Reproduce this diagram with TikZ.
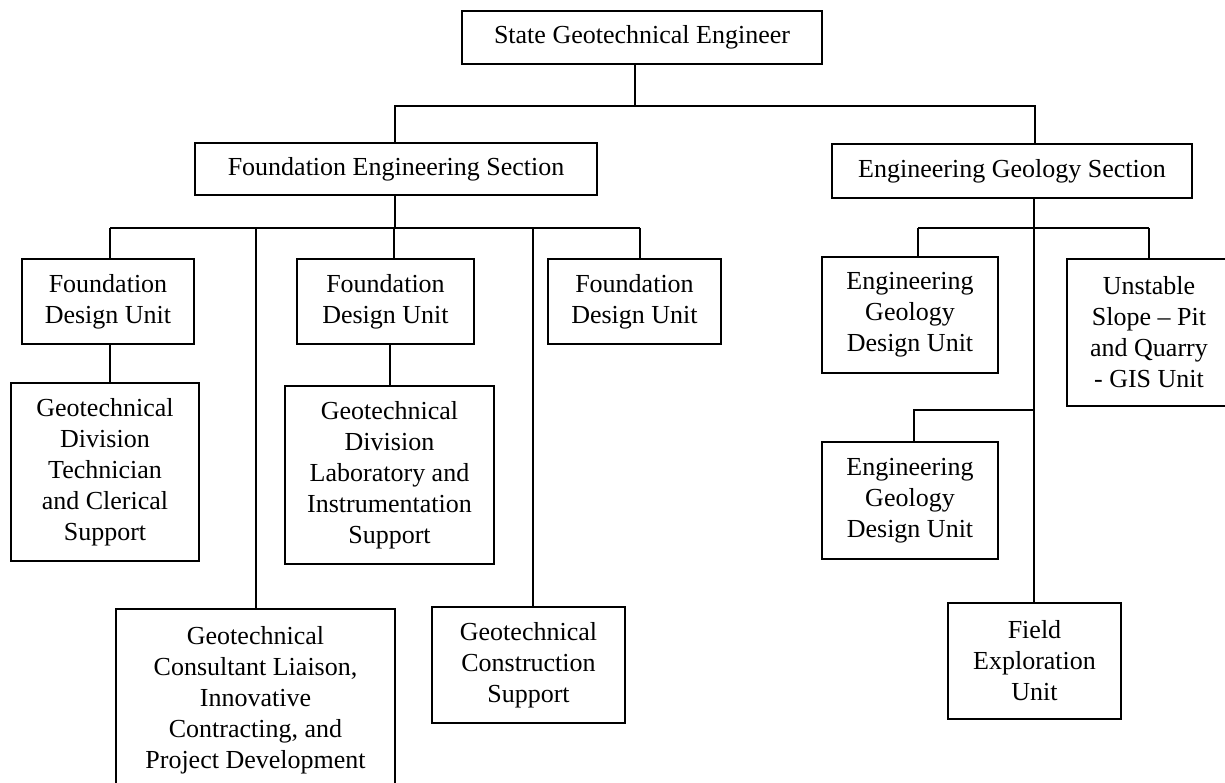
\documentclass[tikz,border=0pt]{standalone}
\usepackage{fontspec}
\setmainfont{Liberation Serif}
\begin{document}
\begin{tikzpicture}[x=1pt,y=-1pt,
  box/.style={draw=black,line width=1.4pt,inner sep=0pt,align=center,
    font=\fontsize{26}{31}\selectfont},
  conn/.style={draw=black,line width=1.4pt}]
\useasboundingbox (0,0) rectangle (1225,783);
\clip (0,0) rectangle (1225,783);
\fill[white] (0,0) rectangle (1225,783);
% boxes: centre, width, height
\node[box,minimum width=360pt,minimum height=53pt] (top) at (642,37.5) {State Geotechnical Engineer};
\node[box,minimum width=402pt,minimum height=52pt] (fes) at (396,169) {Foundation Engineering Section};
\node[box,minimum width=360pt,minimum height=54pt] (egs) at (1012,171) {Engineering Geology Section};
\node[box,minimum width=172pt,minimum height=85pt] (fdu1) at (108,301.5) {Foundation\\Design Unit};
\node[box,minimum width=177pt,minimum height=85pt] (fdu2) at (385.5,301.5) {Foundation\\Design Unit};
\node[box,minimum width=173pt,minimum height=85pt] (fdu3) at (634.5,301.5) {Foundation\\Design Unit};
\node[box,minimum width=188pt,minimum height=178pt] (gdtc) at (105,472) {Geotechnical\\Division\\Technician\\and Clerical\\Support};
\node[box,minimum width=209pt,minimum height=178pt] (gdli) at (389.5,475) {Geotechnical\\Division\\Laboratory and\\Instrumentation\\Support};
\node[box,minimum width=279pt,minimum height=182pt] (gcl) at (255.5,700) {Geotechnical\\Consultant Liaison,\\Innovative\\Contracting, and\\Project Development};
\node[box,minimum width=193pt,minimum height=116pt] (gcs) at (528.5,665) {Geotechnical\\Construction\\Support};
\node[box,minimum width=176pt,minimum height=116pt] (egdu1) at (910,315) {Engineering\\Geology\\Design Unit};
\node[box,minimum width=164pt,minimum height=147pt] (uspq) at (1149,332.5) {Unstable\\Slope – Pit\\and Quarry\\- GIS Unit};
\node[box,minimum width=176pt,minimum height=117pt] (egdu2) at (910,500.5) {Engineering\\Geology\\Design Unit};
\node[box,minimum width=173pt,minimum height=116pt] (feu) at (1034.5,661) {Field\\Exploration\\Unit};
% bus points
\coordinate (t0) at (635,106);
\coordinate (tL) at (395,106);
\coordinate (tR) at (1035,106);
\coordinate (f0) at (395,228);
\coordinate (f1) at (110,228);
\coordinate (f2) at (256,228);
\coordinate (f3) at (394,228);
\coordinate (f4) at (533,228);
\coordinate (f5) at (640,228);
\coordinate (e0) at (1034,228);
\coordinate (e1) at (918,228);
\coordinate (e2) at (1149,228);
\coordinate (e3) at (1034,410);
\coordinate (e4) at (914,410);
\coordinate (d1) at (110,344);
\coordinate (d2) at (390,344);
% connectors
\draw[conn] (top.south -| t0) -- (t0);
\draw[conn] (fes.north -| tL) -- (tL) -- (tR) -- (egs.north -| tR);
\draw[conn] (fes.south -| f0) -- (f0);
\draw[conn] (f1) -- (f5);
\draw[conn] (f1) -- (fdu1.north -| f1);
\draw[conn] (f2) -- (gcl.north -| f2);
\draw[conn] (f3) -- (fdu2.north -| f3);
\draw[conn] (f4) -- (gcs.north -| f4);
\draw[conn] (f5) -- (fdu3.north -| f5);
\draw[conn] (fdu1.south -| d1) -- (gdtc.north -| d1);
\draw[conn] (fdu2.south -| d2) -- (gdli.north -| d2);
\draw[conn] (egs.south -| e0) -- (feu.north -| e0);
\draw[conn] (e1) -- (e2);
\draw[conn] (e1) -- (egdu1.north -| e1);
\draw[conn] (e2) -- (uspq.north -| e2);
\draw[conn] (e3) -- (e4) -- (egdu2.north -| e4);
\end{tikzpicture}
\end{document}
